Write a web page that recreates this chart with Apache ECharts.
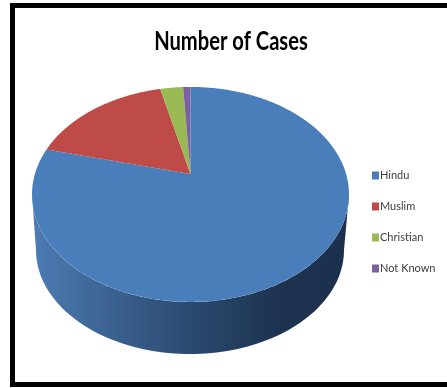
<!DOCTYPE html>
<html>
<head>
<meta charset="utf-8">
<style>
html,body{margin:0;padding:0;background:#fff;overflow:hidden}
#chart{width:447px;height:388px;filter:blur(0.5px)}
</style>
<script src="https://cdn.jsdelivr.net/npm/echarts@6/dist/echarts.min.js"></script>
</head>
<body>
<div id="chart"></div>
<script>
var titleText = 'Number of Cases';
var categories = ['Hindu', 'Muslim', 'Christian', 'Not Known'];
var cases = [79, 17.3, 2.8, 0.9];
var colors = ['#4a7ebb', '#be4b48', '#98b954', '#7d60a0'];

var total = cases.reduce(function (a, b) { return a + b; }, 0);
var apex = { x: 190.5, y: 174 };
var persp = { c: 155.6, a: 103.6, k: -0.19 };
var topRim = { cx: 190.5, cy: 194.5, rx: 158.5, ry: 107.5 };
var baseRim = { cx: 190, cy: 250, rx: 154, ry: 104 };

// Clockwise angle from 12 o'clock -> point on the tilted pie's top face
function facePoint(theta) {
  var u = Math.sin(theta), v = -Math.cos(theta), w = 1 + persp.k * v;
  return [apex.x + persp.c * u / w, apex.y + persp.a * v / w];
}
function rimPoint(rim, t) {
  return [rim.cx + rim.rx * Math.cos(t), rim.cy + rim.ry * Math.sin(t)];
}
function startOf(index) {
  var s = 0;
  for (var i = 0; i < index; i++) s += cases[i];
  return s;
}

function makeRender(index) {
  return function (params, api) {
    var value = api.value(0);
    var a0 = startOf(index) / total * Math.PI * 2;
    var a1 = a0 + value / total * Math.PI * 2;
    var children = [];
    if (index === 0) {
      // The visible front wall belongs wholly to the first slice
      var wall = [], n = 90, i;
      for (i = 0; i <= n; i++) wall.push(rimPoint(topRim, Math.PI * i / n));
      for (i = n; i >= 0; i--) wall.push(rimPoint(baseRim, Math.PI * i / n));
      children.push({
        type: 'polygon',
        shape: { points: wall },
        style: {
          fill: new echarts.graphic.LinearGradient(0, 0, 1, 0, [
            { offset: 0, color: '#4c7cb4' },
            { offset: 0.2, color: '#3f6797' },
            { offset: 0.5, color: '#2b4a70' },
            { offset: 0.78, color: '#1d3350' },
            { offset: 1, color: '#1b304c' }
          ])
        }
      });
    }
    var pts = [[apex.x, apex.y]];
    var steps = Math.max(4, Math.ceil((a1 - a0) / 0.01));
    for (var j = 0; j <= steps; j++) pts.push(facePoint(a0 + (a1 - a0) * j / steps));
    children.push({ type: 'polygon', shape: { points: pts }, style: { fill: colors[index] } });
    return { type: 'group', children: children };
  };
}

var chart = echarts.init(document.getElementById('chart'), null, { renderer: 'canvas' });
chart.setOption({
  animation: false,
  backgroundColor: '#ffffff',
  legend: {
    orient: 'vertical',
    left: 367, top: 165,
    itemWidth: 7, itemHeight: 8, itemGap: 20,
    icon: 'rect',
    data: categories,
    textStyle: { fontFamily: 'Lato', fontSize: 11, color: '#404040', padding: [0, 0, 0, -4] }
  },
  graphic: [{
    type: 'rect',
    shape: { x: 12.5, y: 5.5, width: 460, height: 379 },
    style: { fill: 'none', stroke: '#000', lineWidth: 5 },
    silent: true
  }, {
    type: 'text',
    x: 231, y: 42,
    scaleX: 0.775,
    style: {
      text: titleText,
      x: 0, y: 0,
      align: 'center', verticalAlign: 'middle',
      font: 'bold 26px Lato',
      fill: '#000'
    },
    silent: true
  }],
  series: categories.map(function (name, i) {
    return {
      type: 'custom',
      name: name,
      coordinateSystem: 'none',
      itemStyle: { color: colors[i] },
      renderItem: makeRender(i),
      data: [[cases[i]]],
      silent: true
    };
  })
});
</script>
</body>
</html>
